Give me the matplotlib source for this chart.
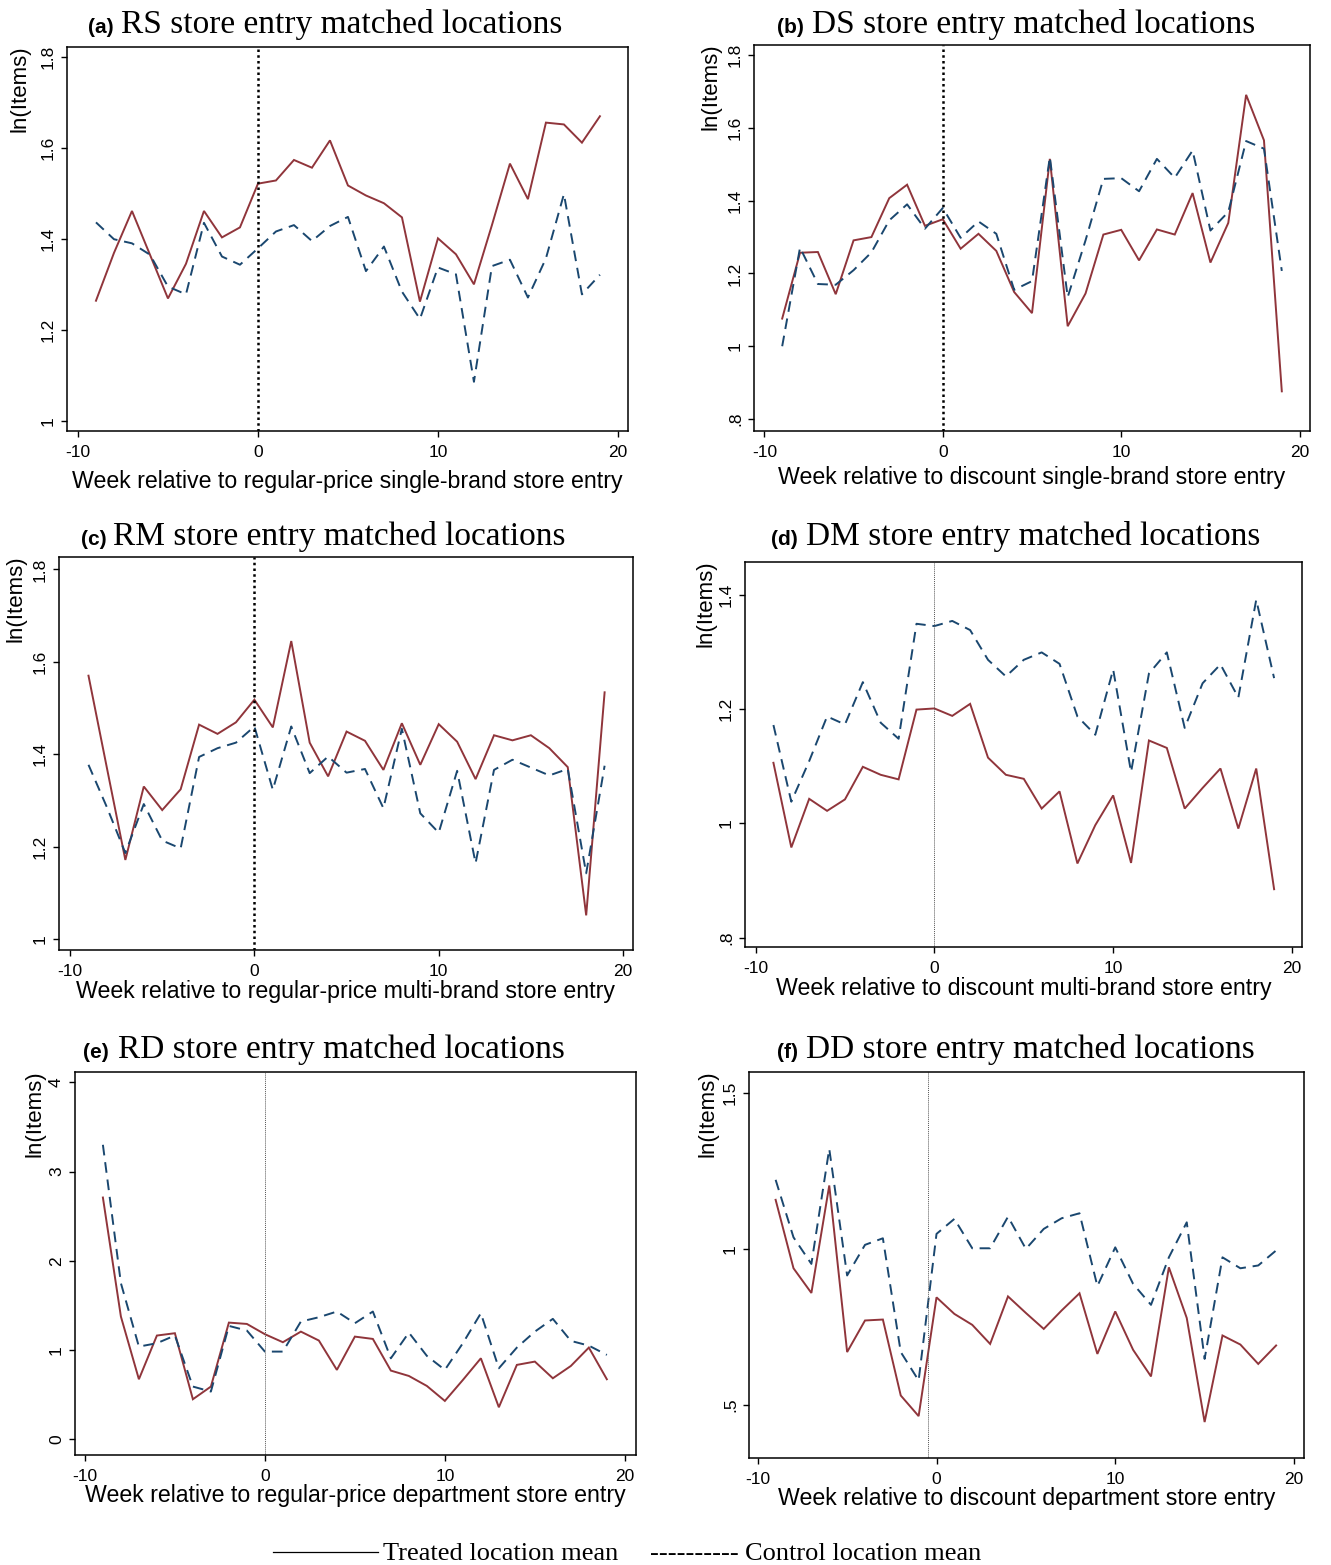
import matplotlib
matplotlib.use("Agg")
import matplotlib.pyplot as plt
from matplotlib.lines import Line2D
import numpy as np

W, H = 1331, 1565
weeks = list(range(-9, 20))

# (a) RS
a_treated = [1.265, 1.370, 1.462, 1.366, 1.270, 1.346, 1.462, 1.404, 1.426, 1.522,
             1.529, 1.574, 1.557, 1.617, 1.518, 1.496, 1.479, 1.448, 1.263, 1.402,
             1.367, 1.301, 1.431, 1.566, 1.488, 1.656, 1.652, 1.612, 1.670]
a_control = [1.437, 1.400, 1.391, 1.366, 1.296, 1.279, 1.436, 1.362, 1.344, 1.380,
             1.417, 1.431, 1.396, 1.429, 1.449, 1.330, 1.384, 1.285, 1.225, 1.338,
             1.323, 1.087, 1.341, 1.355, 1.272, 1.358, 1.499, 1.279, 1.322]
# (b) DS
b_treated = [1.076, 1.257, 1.259, 1.143, 1.291, 1.300, 1.407, 1.444, 1.331, 1.349,
             1.268, 1.309, 1.262, 1.149, 1.091, 1.515, 1.055, 1.145, 1.307, 1.320,
             1.236, 1.321, 1.307, 1.421, 1.230, 1.339, 1.691, 1.566, 0.876]
b_control = [1.000, 1.271, 1.171, 1.169, 1.209, 1.258, 1.346, 1.390, 1.323, 1.380,
             1.298, 1.343, 1.309, 1.155, 1.179, 1.520, 1.135, 1.291, 1.460, 1.462,
             1.426, 1.515, 1.463, 1.538, 1.318, 1.369, 1.564, 1.543, 1.207]
# (c) RM
c_treated = [1.570, 1.370, 1.171, 1.330, 1.279, 1.324, 1.464, 1.444, 1.469, 1.518,
             1.458, 1.645, 1.425, 1.352, 1.449, 1.429, 1.366, 1.467, 1.377, 1.465,
             1.427, 1.346, 1.441, 1.430, 1.441, 1.413, 1.372, 1.051, 1.534]
c_control = [1.377, 1.285, 1.186, 1.292, 1.213, 1.196, 1.394, 1.413, 1.425, 1.460,
             1.323, 1.460, 1.359, 1.395, 1.360, 1.368, 1.283, 1.455, 1.272, 1.230,
             1.364, 1.164, 1.366, 1.388, 1.371, 1.354, 1.368, 1.142, 1.375]
# (d) DM
d_treated = [1.106, 0.958, 1.043, 1.022, 1.042, 1.099, 1.085, 1.077, 1.199, 1.201,
             1.188, 1.209, 1.115, 1.085, 1.078, 1.026, 1.056, 0.930, 0.997, 1.049,
             0.931, 1.145, 1.132, 1.026, 1.062, 1.096, 0.991, 1.096, 0.885]
d_control = [1.172, 1.038, 1.109, 1.187, 1.173, 1.247, 1.176, 1.148, 1.349, 1.345,
             1.354, 1.338, 1.286, 1.257, 1.286, 1.299, 1.279, 1.187, 1.155, 1.269,
             1.090, 1.262, 1.299, 1.167, 1.245, 1.278, 1.220, 1.391, 1.254]
# (e) RD
e_treated = [2.710, 1.376, 0.673, 1.163, 1.189, 0.449, 0.591, 1.308, 1.293, 1.178,
             1.088, 1.207, 1.107, 0.778, 1.151, 1.125, 0.770, 0.710, 0.598, 0.430,
             0.665, 0.908, 0.359, 0.834, 0.871, 0.684, 0.822, 1.028, 0.673]
e_control = [3.301, 1.750, 1.039, 1.077, 1.163, 0.591, 0.535, 1.271, 1.219, 0.983,
             0.983, 1.320, 1.368, 1.432, 1.301, 1.432, 0.908, 1.196, 0.935, 0.778,
             1.077, 1.413, 0.796, 1.028, 1.207, 1.350, 1.103, 1.050, 0.946]
# (f) DD
f_treated = [1.157, 0.938, 0.859, 1.203, 0.670, 0.771, 0.774, 0.531, 0.465, 0.845,
             0.792, 0.757, 0.696, 0.848, 0.795, 0.744, 0.803, 0.858, 0.664, 0.800,
             0.677, 0.592, 0.941, 0.779, 0.446, 0.723, 0.694, 0.632, 0.691]
f_control = [1.221, 1.037, 0.952, 1.320, 0.915, 1.013, 1.034, 0.670, 0.579, 1.048,
             1.096, 1.002, 1.002, 1.103, 1.000, 1.064, 1.098, 1.114, 0.881, 1.005,
             0.888, 0.821, 0.973, 1.085, 0.648, 0.973, 0.938, 0.947, 0.995]

letters = ["(a)", "(b)", "(c)", "(d)", "(e)", "(f)"]
titles = ["RS store entry matched locations", "DS store entry matched locations",
          "RM store entry matched locations", "DM store entry matched locations",
          "RD store entry matched locations", "DD store entry matched locations"]
xlabels = ["Week relative to regular-price single-brand store entry",
           "Week relative to discount single-brand store entry",
           "Week relative to regular-price multi-brand store entry",
           "Week relative to discount multi-brand store entry",
           "Week relative to regular-price department store entry",
           "Week relative to discount department store entry"]
xticks = [-10, 0, 10, 20]
yticks_list = [[1, 1.2, 1.4, 1.6, 1.8], [0.8, 1, 1.2, 1.4, 1.6, 1.8],
               [1, 1.2, 1.4, 1.6, 1.8], [0.8, 1, 1.2, 1.4],
               [0, 1, 2, 3, 4], [0.5, 1, 1.5]]
ytick_labels = [["1", "1.2", "1.4", "1.6", "1.8"], [".8", "1", "1.2", "1.4", "1.6", "1.8"],
                ["1", "1.2", "1.4", "1.6", "1.8"], [".8", "1", "1.2", "1.4"],
                ["0", "1", "2", "3", "4"], [".5", "1", "1.5"]]
entry_week = [0, 0, 0, 0, 0, -0.5]
legend_labels = ["Treated location mean", "Control location mean"]

treated = [a_treated, b_treated, c_treated, d_treated, e_treated, f_treated]
control = [a_control, b_control, c_control, d_control, e_control, f_control]

# layout (pixels): left, right, top, bottom
boxes = [(67, 628, 47, 431), (754, 1310, 45, 431),
         (59, 633, 557, 950), (745, 1302, 562, 947),
         (75, 636, 1072, 1455), (749, 1304, 1072, 1458)]
xlims = [(-10.61, 20.56), (-10.58, 20.58), (-10.6, 20.54), (-10.59, 20.56),
         (-10.55, 20.62), (-10.49, 20.56)]
ylims = [(0.979, 1.822), (0.767, 1.828), (0.976, 1.827), (0.784, 1.457),
         (-0.176, 4.117), (0.331, 1.566)]
title_pos = [(88, 121, 33), (777, 812, 33), (81, 113, 545), (771, 806, 545),
             (83, 118, 1058), (777, 806, 1058)]
ylab_x = [20, 711, 16, 706, 35, 708]
xlabel_pads = [7.5, 4.6, 1.0, 1.0, 0.3, 0.3]

RED = "#90353B"
BLUE = "#1A476F"

fig = plt.figure(figsize=(W / 100, H / 100), dpi=100)
fig.patch.set_facecolor("white")

for i in range(6):
    l, r, t, b = boxes[i]
    ax = fig.add_axes([l / W, 1 - b / H, (r - l) / W, (b - t) / H])
    ax.plot(weeks, treated[i], color=RED, lw=1.4, solid_joinstyle="miter")
    ax.plot(weeks, control[i], color=BLUE, lw=1.4, dashes=(5.5, 3.5))
    if i in (0, 1, 2):
        ax.axvline(entry_week[i], color="black", lw=1.8, ls=(0, (1, 1.3)))
    else:
        ax.axvline(entry_week[i], color="#555555", lw=0.7, ls=(0, (1, 1)))
    ax.set_xlim(*xlims[i])
    ax.set_ylim(*ylims[i])
    ax.set_xticks(xticks)
    ax.set_xticklabels([str(v) for v in xticks], fontsize=12.5, family="Liberation Sans")
    ax.set_yticks(yticks_list[i])
    ax.set_yticklabels(ytick_labels[i], fontsize=12.5, family="Liberation Sans",
                       rotation=90, va="center")
    ax.tick_params(axis="x", direction="out", length=4.5, width=1.0, pad=5.5)
    ax.tick_params(axis="y", direction="out", length=4.5, width=1.0, pad=3.5)
    for sp in ax.spines.values():
        sp.set_linewidth(1.1)
    ax.set_xlabel(xlabels[i], fontsize=16.7, family="Liberation Sans",
                  labelpad=xlabel_pads[i])
    # y label aligned with top of axes
    fig.text(ylab_x[i] / W, 1 - (t - 2) / H, "ln(Items)", rotation=90,
             ha="center", va="top", fontsize=16, family="Liberation Sans")
    lx, tx, by = title_pos[i]
    fig.text(lx / W, 1 - by / H, letters[i], fontsize=15, fontweight="bold",
             family="Liberation Sans", ha="left", va="baseline")
    fig.text(tx / W, 1 - by / H, titles[i], fontsize=24,
             family="Liberation Serif", ha="left", va="baseline")

# legend at bottom
ly = 1 - 1552 / H
fig.add_artist(Line2D([273 / W, 378 / W], [ly, ly], color="black", lw=0.9,
                      transform=fig.transFigure))
fig.text(383 / W, 1 - 1560 / H, legend_labels[0], fontsize=19,
         family="Liberation Serif", ha="left", va="baseline")
fig.text(650 / W, 1 - 1560 / H, "----------", fontsize=19,
         family="Liberation Serif", ha="left", va="baseline")
fig.text(745 / W, 1 - 1560 / H, legend_labels[1], fontsize=19,
         family="Liberation Serif", ha="left", va="baseline")

fig.savefig("out.png", dpi=100, facecolor="white")
